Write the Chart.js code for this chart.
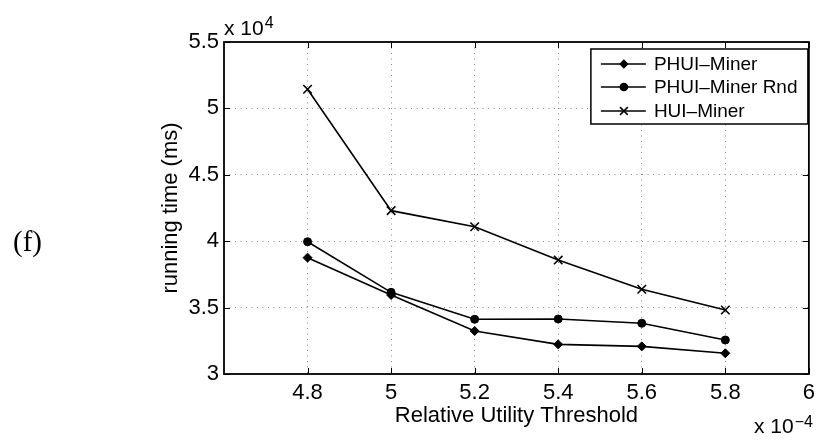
<!DOCTYPE html>
<html>
<head>
<meta charset="utf-8">
<script src="https://cdn.jsdelivr.net/npm/chart.js@4/dist/chart.umd.min.js"></script>
<style>
  html, body { margin: 0; padding: 0; background: #fff; }
  canvas { display: block; }
</style>
</head>
<body>
<canvas id="c" width="821" height="441"></canvas>
<script>
// Relative utility threshold (x 10^-4)
const thresholds = [4.8, 5.0, 5.2, 5.4, 5.6, 5.8];
// Running time (ms, x 10^4)
const phuiMiner    = [3.876, 3.595, 3.324, 3.223, 3.208, 3.156];
const phuiMinerRnd = [3.996, 3.615, 3.412, 3.414, 3.382, 3.256];
const huiMiner     = [5.144, 4.230, 4.109, 3.858, 3.638, 3.482];
const seriesNames  = ['PHUI\u2013Miner', 'PHUI\u2013Miner Rnd', 'HUI\u2013Miner'];
// Axis ticks
const xTicks = [4.8, 5.0, 5.2, 5.4, 5.6, 5.8, 6.0];
const yTicks = [3.0, 3.5, 4.0, 4.5, 5.0, 5.5];

const SANS = '"Liberation Sans", Arial, Helvetica, sans-serif';

function pairs(ys) { return thresholds.map((x, i) => ({ x: x, y: ys[i] })); }

function series(label, ys, style, radius) {
  return {
    label: label,
    data: pairs(ys),
    borderColor: '#000',
    backgroundColor: '#000',
    borderWidth: 1.6,
    pointStyle: style,
    pointRadius: radius,
    pointBorderWidth: style === 'crossRot' ? 1.6 : 1,
    pointBackgroundColor: '#000',
    pointBorderColor: '#000',
    tension: 0,
    fill: false
  };
}

// Boxed axes with inward ticks, the legend, exponent labels and the panel tag
const decorations = {
  id: 'decorations',
  beforeDraw(chart) {
    const ctx = chart.ctx;
    ctx.save();
    ctx.fillStyle = '#fff';
    ctx.fillRect(0, 0, chart.width, chart.height);
    ctx.restore();
  },
  afterDraw(chart) {
    const ctx = chart.ctx;
    const a = chart.chartArea;
    const xs = chart.scales.x, ys = chart.scales.y;
    ctx.save();

    // inward tick marks on all four sides
    ctx.strokeStyle = '#000';
    ctx.lineWidth = 1;
    const tl = 6;
    xTicks.forEach(v => {
      const px = Math.round(xs.getPixelForValue(v)) + 0.5;
      ctx.beginPath();
      ctx.moveTo(px, a.bottom); ctx.lineTo(px, a.bottom - tl);
      ctx.moveTo(px, a.top); ctx.lineTo(px, a.top + tl);
      ctx.stroke();
    });
    yTicks.forEach(v => {
      const py = Math.round(ys.getPixelForValue(v)) + 0.5;
      ctx.beginPath();
      ctx.moveTo(a.left, py); ctx.lineTo(a.left + tl, py);
      ctx.moveTo(a.right, py); ctx.lineTo(a.right - tl, py);
      ctx.stroke();
    });

    // frame
    ctx.lineWidth = 1.8;
    ctx.strokeRect(a.left, a.top, a.right - a.left, a.bottom - a.top);

    // legend
    const lx = a.right - 218, ly = a.top + 7, lw = 217, lh = 75;
    ctx.fillStyle = '#fff';
    ctx.fillRect(lx, ly, lw, lh);
    ctx.lineWidth = 1.5;
    ctx.strokeStyle = '#000';
    ctx.strokeRect(lx, ly, lw, lh);
    ctx.font = '19px ' + SANS;
    ctx.textBaseline = 'middle';
    ctx.textAlign = 'left';
    ctx.fillStyle = '#000';
    const rows = [15, 38, 62];
    chart.data.datasets.forEach((ds, i) => {
      const y = ly + rows[i];
      ctx.lineWidth = 1.5;
      ctx.beginPath();
      ctx.moveTo(lx + 10, y); ctx.lineTo(lx + 55, y);
      ctx.stroke();
      Chart.helpers.drawPoint(ctx, {
        pointStyle: ds.pointStyle,
        radius: ds.pointStyle === 'crossRot' ? 5.5 : 3.6,
        borderWidth: 1.4,
        rotation: 0
      }, lx + 33, y);
      if (ds.pointStyle !== 'crossRot') ctx.fill();
      ctx.fillText(ds.label, lx + 63, y + 1);
    });

    // exponent labels
    ctx.textBaseline = 'alphabetic';
    ctx.font = '21px ' + SANS;
    const top = 'x 10';
    ctx.fillText(top, a.left, 35);
    const tw = ctx.measureText(top).width;
    ctx.font = '16px ' + SANS;
    ctx.fillText('4', a.left + tw + 1, 28);

    ctx.font = '21px ' + SANS;
    const bx = 754;
    ctx.fillText(top, bx, 433);
    const bw = ctx.measureText(top).width;
    ctx.font = '16px ' + SANS;
    ctx.fillText('\u22124', bx + bw + 1, 427);

    // panel tag
    ctx.font = '29px "Liberation Serif", "Times New Roman", serif';
    ctx.textBaseline = 'middle';
    ctx.fillText('(f)', 13, 243);

    ctx.restore();
  }
};

new Chart(document.getElementById('c'), {
  type: 'line',
  data: {
    datasets: [
      series(seriesNames[0], phuiMiner, 'rectRot', 4.5),
      series(seriesNames[1], phuiMinerRnd, 'circle', 4),
      series(seriesNames[2], huiMiner, 'crossRot', 6)
    ]
  },
  options: {
    responsive: false,
    animation: false,
    layout: { padding: { left: 150, top: 42, right: 10, bottom: 0 } },
    plugins: { legend: { display: false }, tooltip: { enabled: false } },
    scales: {
      x: {
        type: 'linear',
        min: 4.6,
        max: 6.0,
        afterBuildTicks: s => { s.ticks = xTicks.map(v => ({ value: v })); },
        afterFit: s => { s.height = 67; },
        ticks: {
          color: '#000',
          padding: 6,
          font: { family: SANS, size: 22 },
          maxRotation: 0,
          autoSkip: false,
          callback: v => String(v)
        },
        grid: { color: '#8a8a8a', lineWidth: 1, drawTicks: false },
        border: { display: false, dash: [1, 4.5] },
        title: {
          display: true,
          text: 'Relative Utility Threshold',
          color: '#000',
          font: { family: SANS, size: 22 },
          padding: { top: 0, bottom: 12 }
        }
      },
      y: {
        type: 'linear',
        min: 3.0,
        max: 5.5,
        afterBuildTicks: s => { s.ticks = yTicks.map(v => ({ value: v })); },
        afterFit: s => { s.width = 74; },
        ticks: {
          color: '#000',
          padding: 5,
          font: { family: SANS, size: 22 },
          callback: v => String(v)
        },
        grid: { color: '#8a8a8a', lineWidth: 1, drawTicks: false },
        border: { display: false, dash: [1, 4.5] },
        title: {
          display: true,
          text: 'running time (ms)',
          color: '#000',
          font: { family: SANS, size: 22 },
          padding: { top: 8, bottom: 0 }
        }
      }
    }
  },
  plugins: [decorations]
});
</script>
</body>
</html>
